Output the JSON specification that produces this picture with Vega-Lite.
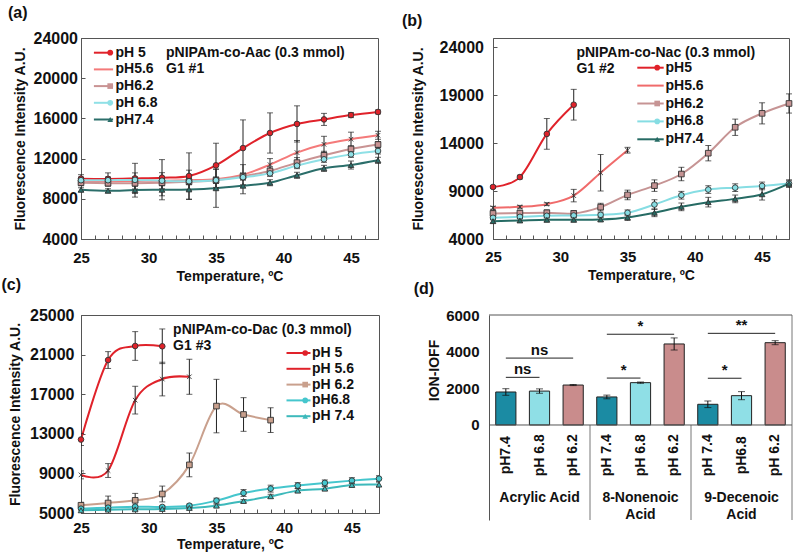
{
  "$schema": "https://vega.github.io/schema/vega-lite/v6.json",
  "background": "white",
  "padding": {"left": 1, "top": 4, "right": 2, "bottom": 2},
  "datasets": {
    "a": [
      {"ph":"pH 5","t":25,"v":10000,"e":400},{"ph":"pH 5","t":27,"v":9980,"e":600},{"ph":"pH 5","t":29,"v":10030,"e":1500},{"ph":"pH 5","t":31,"v":10100,"e":1800},{"ph":"pH 5","t":33,"v":10270,"e":2300},{"ph":"pH 5","t":35,"v":11330,"e":2200},{"ph":"pH 5","t":37,"v":13050,"e":2800},{"ph":"pH 5","t":39,"v":14550,"e":2000},{"ph":"pH 5","t":41,"v":15450,"e":1800},{"ph":"pH 5","t":43,"v":15900,"e":600},{"ph":"pH 5","t":45,"v":16330,"e":250},{"ph":"pH 5","t":47,"v":16640,"e":200},
      {"ph":"pH5.6","t":25,"v":9800,"e":300},{"ph":"pH5.6","t":27,"v":9750,"e":400},{"ph":"pH5.6","t":29,"v":9780,"e":800},{"ph":"pH5.6","t":31,"v":9800,"e":800},{"ph":"pH5.6","t":33,"v":9850,"e":1000},{"ph":"pH5.6","t":35,"v":9950,"e":1000},{"ph":"pH5.6","t":37,"v":10400,"e":1000},{"ph":"pH5.6","t":39,"v":11400,"e":600},{"ph":"pH5.6","t":41,"v":12600,"e":1200},{"ph":"pH5.6","t":43,"v":13420,"e":800},{"ph":"pH5.6","t":45,"v":13930,"e":700},{"ph":"pH5.6","t":47,"v":14320,"e":400},
      {"ph":"pH6.2","t":25,"v":9600,"e":300},{"ph":"pH6.2","t":27,"v":9550,"e":300},{"ph":"pH6.2","t":29,"v":9550,"e":300},{"ph":"pH6.2","t":31,"v":9600,"e":300},{"ph":"pH6.2","t":33,"v":9700,"e":300},{"ph":"pH6.2","t":35,"v":9850,"e":300},{"ph":"pH6.2","t":37,"v":10250,"e":300},{"ph":"pH6.2","t":39,"v":10770,"e":400},{"ph":"pH6.2","t":41,"v":11600,"e":500},{"ph":"pH6.2","t":43,"v":12330,"e":400},{"ph":"pH6.2","t":45,"v":12960,"e":300},{"ph":"pH6.2","t":47,"v":13400,"e":300},
      {"ph":"pH 6.8","t":25,"v":9850,"e":300},{"ph":"pH 6.8","t":27,"v":9850,"e":300},{"ph":"pH 6.8","t":29,"v":9880,"e":300},{"ph":"pH 6.8","t":31,"v":9800,"e":300},{"ph":"pH 6.8","t":33,"v":9750,"e":300},{"ph":"pH 6.8","t":35,"v":9850,"e":300},{"ph":"pH 6.8","t":37,"v":10150,"e":300},{"ph":"pH 6.8","t":39,"v":10530,"e":300},{"ph":"pH 6.8","t":41,"v":11300,"e":300},{"ph":"pH 6.8","t":43,"v":11930,"e":300},{"ph":"pH 6.8","t":45,"v":12420,"e":300},{"ph":"pH 6.8","t":47,"v":12760,"e":300},
      {"ph":"pH7.4","t":25,"v":8900,"e":200},{"ph":"pH7.4","t":27,"v":8800,"e":200},{"ph":"pH7.4","t":29,"v":8870,"e":700},{"ph":"pH7.4","t":31,"v":8900,"e":1000},{"ph":"pH7.4","t":33,"v":8930,"e":1000},{"ph":"pH7.4","t":35,"v":9050,"e":1900},{"ph":"pH7.4","t":37,"v":9300,"e":800},{"ph":"pH7.4","t":39,"v":9600,"e":300},{"ph":"pH7.4","t":41,"v":10340,"e":300},{"ph":"pH7.4","t":43,"v":11030,"e":300},{"ph":"pH7.4","t":45,"v":11360,"e":400},{"ph":"pH7.4","t":47,"v":11830,"e":300}
    ],
    "b": [
      {"ph":"pH5","t":25,"v":9420,"e":150},{"ph":"pH5","t":27,"v":10450,"e":200},{"ph":"pH5","t":29,"v":14950,"e":1600},{"ph":"pH5","t":31,"v":17990,"e":1600},
      {"ph":"pH5.6","t":25,"v":7250,"e":150},{"ph":"pH5.6","t":27,"v":7350,"e":150},{"ph":"pH5.6","t":29,"v":7630,"e":150},{"ph":"pH5.6","t":31,"v":8520,"e":650},{"ph":"pH5.6","t":33,"v":10900,"e":1900},{"ph":"pH5.6","t":35,"v":13250,"e":300},
      {"ph":"pH6.2","t":25,"v":6660,"e":300},{"ph":"pH6.2","t":27,"v":6700,"e":300},{"ph":"pH6.2","t":29,"v":6730,"e":300},{"ph":"pH6.2","t":31,"v":6660,"e":300},{"ph":"pH6.2","t":33,"v":7320,"e":400},{"ph":"pH6.2","t":35,"v":8590,"e":500},{"ph":"pH6.2","t":37,"v":9560,"e":600},{"ph":"pH6.2","t":39,"v":10770,"e":700},{"ph":"pH6.2","t":41,"v":12940,"e":800},{"ph":"pH6.2","t":43,"v":15640,"e":850},{"ph":"pH6.2","t":45,"v":17090,"e":1100},{"ph":"pH6.2","t":47,"v":18120,"e":1000},
      {"ph":"pH6.8","t":25,"v":6210,"e":200},{"ph":"pH6.8","t":27,"v":6310,"e":200},{"ph":"pH6.8","t":29,"v":6420,"e":200},{"ph":"pH6.8","t":31,"v":6450,"e":200},{"ph":"pH6.8","t":33,"v":6520,"e":200},{"ph":"pH6.8","t":35,"v":6730,"e":300},{"ph":"pH6.8","t":37,"v":7590,"e":500},{"ph":"pH6.8","t":39,"v":8560,"e":400},{"ph":"pH6.8","t":41,"v":9150,"e":400},{"ph":"pH6.8","t":43,"v":9350,"e":400},{"ph":"pH6.8","t":45,"v":9530,"e":400},{"ph":"pH6.8","t":47,"v":9770,"e":400},
      {"ph":"pH7.4","t":25,"v":5860,"e":200},{"ph":"pH7.4","t":27,"v":5930,"e":200},{"ph":"pH7.4","t":29,"v":6000,"e":200},{"ph":"pH7.4","t":31,"v":6000,"e":200},{"ph":"pH7.4","t":33,"v":6030,"e":200},{"ph":"pH7.4","t":35,"v":6240,"e":300},{"ph":"pH7.4","t":37,"v":6730,"e":400},{"ph":"pH7.4","t":39,"v":7350,"e":400},{"ph":"pH7.4","t":41,"v":7840,"e":500},{"ph":"pH7.4","t":43,"v":8180,"e":400},{"ph":"pH7.4","t":45,"v":8660,"e":600},{"ph":"pH7.4","t":47,"v":9770,"e":300}
    ],
    "c": [
      {"ph":"pH 5","t":25,"v":12420,"e":600},{"ph":"pH 5","t":27,"v":20450,"e":850},{"ph":"pH 5","t":29,"v":21870,"e":1450},{"ph":"pH 5","t":31,"v":21840,"e":1750},
      {"ph":"pH 5.6","t":25,"v":8850,"e":400},{"ph":"pH 5.6","t":27,"v":9290,"e":700},{"ph":"pH 5.6","t":29,"v":16400,"e":1400},{"ph":"pH 5.6","t":31,"v":18530,"e":1700},{"ph":"pH 5.6","t":33,"v":18760,"e":1770},
      {"ph":"pH 6.2","t":25,"v":5780,"e":300},{"ph":"pH 6.2","t":27,"v":6010,"e":700},{"ph":"pH 6.2","t":29,"v":6280,"e":700},{"ph":"pH 6.2","t":31,"v":6920,"e":800},{"ph":"pH 6.2","t":33,"v":9860,"e":1200},{"ph":"pH 6.2","t":35,"v":15800,"e":2700},{"ph":"pH 6.2","t":37,"v":14950,"e":1700},{"ph":"pH 6.2","t":39,"v":14380,"e":1250},
      {"ph":"pH6.8","t":25,"v":5440,"e":150},{"ph":"pH6.8","t":27,"v":5540,"e":150},{"ph":"pH6.8","t":29,"v":5640,"e":150},{"ph":"pH6.8","t":31,"v":5610,"e":150},{"ph":"pH6.8","t":33,"v":5740,"e":150},{"ph":"pH6.8","t":35,"v":6250,"e":250},{"ph":"pH6.8","t":37,"v":7020,"e":350},{"ph":"pH6.8","t":39,"v":7460,"e":350},{"ph":"pH6.8","t":41,"v":7770,"e":300},{"ph":"pH6.8","t":43,"v":8040,"e":300},{"ph":"pH6.8","t":45,"v":8270,"e":300},{"ph":"pH6.8","t":47,"v":8470,"e":300},
      {"ph":"pH 7.4","t":25,"v":5270,"e":100},{"ph":"pH 7.4","t":27,"v":5340,"e":100},{"ph":"pH 7.4","t":29,"v":5370,"e":100},{"ph":"pH 7.4","t":31,"v":5410,"e":100},{"ph":"pH 7.4","t":33,"v":5510,"e":100},{"ph":"pH 7.4","t":35,"v":5740,"e":150},{"ph":"pH 7.4","t":37,"v":6210,"e":150},{"ph":"pH 7.4","t":39,"v":6690,"e":200},{"ph":"pH 7.4","t":41,"v":7260,"e":200},{"ph":"pH 7.4","t":43,"v":7460,"e":200},{"ph":"pH 7.4","t":45,"v":7830,"e":200},{"ph":"pH 7.4","t":47,"v":7870,"e":250}
    ],
    "d": [
      {"cat":"A1","group":"Acrylic Acid","ph":"pH7.4","phc":"7.4","v":1800,"e":180},
      {"cat":"A2","group":"Acrylic Acid","ph":"pH 6.8","phc":"6.8","v":1850,"e":120},
      {"cat":"A3","group":"Acrylic Acid","ph":"pH 6.2","phc":"6.2","v":2180,"e":30},
      {"cat":"N1","group":"8-Nonenoic\nAcid","ph":"pH 7.4","phc":"7.4","v":1530,"e":100},
      {"cat":"N2","group":"8-Nonenoic\nAcid","ph":"pH 6.8","phc":"6.8","v":2310,"e":35},
      {"cat":"N3","group":"8-Nonenoic\nAcid","ph":"pH 6.2","phc":"6.2","v":4420,"e":330},
      {"cat":"D1","group":"9-Decenoic\nAcid","ph":"pH 7.4","phc":"7.4","v":1130,"e":180},
      {"cat":"D2","group":"9-Decenoic\nAcid","ph":"pH6.8","phc":"6.8","v":1600,"e":220},
      {"cat":"D3","group":"9-Decenoic\nAcid","ph":"pH 6.2","phc":"6.2","v":4490,"e":110}
    ],
    "dsig": [
      {"from":"A1","to":"A3","mid":"A2","kind":"tri","y":3650,"label":"ns"},
      {"from":"A1","to":"A2","mid":"A2","kind":"pair","y":2600,"label":"ns"},
      {"from":"N1","to":"N2","mid":"N2","kind":"pair","y":2560,"label":"*"},
      {"from":"N1","to":"N3","mid":"N2","kind":"tri","y":4950,"label":"*"},
      {"from":"D1","to":"D2","mid":"D2","kind":"pair","y":2550,"label":"*"},
      {"from":"D1","to":"D3","mid":"D2","kind":"tri","y":5000,"label":"**"}
    ]
  },
  "spacing": -8,
  "resolve": {"scale": {"stroke": "independent", "fill": "independent", "shape": "independent"}, "legend": {"stroke": "independent", "fill": "independent", "shape": "independent"}},
  "vconcat": [
    {
      "resolve": {"scale": {"stroke": "independent", "fill": "independent", "shape": "independent"}, "legend": {"stroke": "independent", "fill": "independent", "shape": "independent"}},
      "hconcat": [
        {
          "title": {"text": "(a)", "anchor": "start", "frame": "bounds", "dx": -5, "offset": 9},
          "width": 297, "height": 201,
          "data": {"name": "a"},
          "encoding": {
            "x": {"field": "t", "type": "quantitative", "scale": {"domain": [25, 47], "nice": false, "zero": false},
              "axis": {"values": [25,26,27,28,29,30,31,32,33,34,35,36,37,38,39,40,41,42,43,44,45,46,47], "labelExpr": "datum.value % 5 === 0 ? datum.label : ''", "labelOverlap": false, "tickSize": -4, "labelPadding": 15, "title": "Temperature, ºC", "titlePadding": 4}},
            "y": {"field": "v", "type": "quantitative", "scale": {"domain": [4000, 24000], "nice": false, "zero": false},
              "axis": {"values": [4000, 8000, 12000, 16000, 20000, 24000], "format": "d", "labelFontSize": 16, "tickSize": -4, "labelPadding": 7.5, "title": "Fluorescence Intensity A.U.", "titlePadding": 6}}
          },
          "layer": [
            {"mark": {"type": "line", "interpolate": "cardinal", "strokeWidth": 2},
              "encoding": {"stroke": {"field": "ph", "type": "nominal",
                "scale": {"domain": ["pH 5", "pH5.6", "pH6.2", "pH 6.8", "pH7.4"], "range": ["#e0222a", "#f47a7a", "#c99393", "#8fe0e6", "#2b6e6a"]},
                "legend": {"orient": "none", "legendX": 15.5, "legendY": 7.7, "title": null, "symbolType": "M-2.4,0H2.4", "symbolSize": 64, "symbolStrokeWidth": 2, "labelOffset": 5, "rowPadding": 2.7}}}},
            {"mark": {"type": "errorbar", "ticks": {"size": 6}, "color": "#222", "thickness": 1},
              "encoding": {"yError": {"field": "e"}}},
            {"mark": {"type": "point", "filled": true, "size": 32, "stroke": "#333", "strokeWidth": 0.9, "opacity": 1},
              "encoding": {
                "fill": {"field": "ph", "type": "nominal", "sort": null, "scale": {"range": ["#e0222a", "#f47a7a", "#c99393", "#8fe0e6", "#2b6e6a"]},
                  "legend": {"orient": "none", "legendX": 22.2, "legendY": 7.7, "title": null, "symbolSize": 32, "symbolStrokeColor": "#333", "symbolStrokeWidth": 0.9, "labelOpacity": 0, "rowPadding": 2.7}},
                "shape": {"field": "ph", "type": "nominal", "sort": null, "scale": {"range": ["circle", "M-0.8,-0.8L0.8,0.8M-0.8,0.8L0.8,-0.8", "square", "circle", "triangle-up"]},
                  "legend": {"orient": "none", "legendX": 22.2, "legendY": 7.7, "title": null, "symbolSize": 32, "symbolStrokeColor": "#333", "symbolStrokeWidth": 0.9, "labelOpacity": 0, "rowPadding": 2.7}}
              }},
            {"transform": [{"filter": "datum.ph === 'pH 5' && datum.t === 25"}],
              "mark": {"type": "text", "align": "left", "baseline": "top", "fontSize": 14, "fontWeight": "bold", "lineHeight": 16.6, "color": "#111"},
              "encoding": {"x": {"datum": 31.3}, "y": {"datum": 23233}, "text": {"value": ["pNIPAm-co-Aac  (0.3 mmol)", "G1  #1"]}}}
          ]
        },
        {
          "title": {"text": "(b)", "anchor": "start", "frame": "bounds", "dx": -9, "offset": 9},
          "width": 296, "height": 201,
          "data": {"name": "b"},
          "encoding": {
            "x": {"field": "t", "type": "quantitative", "scale": {"domain": [25, 47], "nice": false, "zero": false},
              "axis": {"values": [25,26,27,28,29,30,31,32,33,34,35,36,37,38,39,40,41,42,43,44,45,46,47], "labelExpr": "datum.value % 5 === 0 ? datum.label : ''", "labelOverlap": false, "tickSize": -4, "labelPadding": 14, "title": "Temperature, ºC", "titlePadding": 4}},
            "y": {"field": "v", "type": "quantitative", "scale": {"domain": [4000, 24940], "nice": false, "zero": false},
              "axis": {"values": [4000, 9000, 14000, 19000, 24000], "format": "d", "labelFontSize": 16, "tickSize": -4, "labelPadding": 13.5, "title": "Fluorescence Intensity A.U.", "titlePadding": 14}}
          },
          "layer": [
            {"mark": {"type": "line", "interpolate": "cardinal", "strokeWidth": 2},
              "encoding": {"stroke": {"field": "ph", "type": "nominal",
                "scale": {"domain": ["pH5", "pH5.6", "pH6.2", "pH6.8", "pH7.4"], "range": ["#e0222a", "#f06b6b", "#c69494", "#86dde3", "#266b64"]},
                "legend": {"orient": "none", "legendX": 150.5, "legendY": 22.7, "title": null, "symbolType": "M-3.3,0H3.3", "symbolSize": 64, "symbolStrokeWidth": 2, "labelOffset": 8, "rowPadding": 3.9}}}},
            {"mark": {"type": "errorbar", "ticks": {"size": 6}, "color": "#222", "thickness": 1},
              "encoding": {"yError": {"field": "e"}}},
            {"mark": {"type": "point", "filled": true, "size": 32, "stroke": "#333", "strokeWidth": 0.9, "opacity": 1},
              "encoding": {
                "fill": {"field": "ph", "type": "nominal", "sort": null, "scale": {"range": ["#e0222a", "#f06b6b", "#c69494", "#86dde3", "#266b64"]},
                  "legend": {"orient": "none", "legendX": 157.2, "legendY": 22.7, "title": null, "symbolSize": 32, "symbolStrokeColor": "#333", "symbolStrokeWidth": 0.9, "labelOpacity": 0, "rowPadding": 3.9}},
                "shape": {"field": "ph", "type": "nominal", "sort": null, "scale": {"range": ["circle", "M-0.8,-0.8L0.8,0.8M-0.8,0.8L0.8,-0.8", "square", "circle", "triangle-up"]},
                  "legend": {"orient": "none", "legendX": 157.2, "legendY": 22.7, "title": null, "symbolSize": 32, "symbolStrokeColor": "#333", "symbolStrokeWidth": 0.9, "labelOpacity": 0, "rowPadding": 3.9}}
              }},
            {"transform": [{"filter": "datum.ph === 'pH5' && datum.t === 25"}],
              "mark": {"type": "text", "align": "left", "baseline": "top", "fontSize": 14, "fontWeight": "bold", "lineHeight": 16.6, "color": "#111"},
              "encoding": {"x": {"datum": 31.2}, "y": {"datum": 24135}, "text": {"value": ["pNIPAm-co-Nac  (0.3 mmol)", "G1 #2"]}}}
          ]
        }
      ],
      "spacing": 17
    },
    {
      "resolve": {"scale": {"stroke": "independent", "fill": "independent", "shape": "independent"}, "legend": {"stroke": "independent", "fill": "independent", "shape": "independent"}},
      "hconcat": [
        {
          "title": {"text": "(c)", "anchor": "start", "frame": "bounds", "dx": -7, "offset": 14},
          "width": 298, "height": 198,
          "data": {"name": "c"},
          "encoding": {
            "x": {"field": "t", "type": "quantitative", "scale": {"domain": [25, 47], "nice": false, "zero": false},
              "axis": {"values": [25,26,27,28,29,30,31,32,33,34,35,36,37,38,39,40,41,42,43,44,45,46,47], "labelExpr": "datum.value % 5 === 0 ? datum.label : ''", "labelOverlap": false, "tickSize": -4, "labelPadding": 11, "title": "Temperature, ºC", "titlePadding": 2}},
            "y": {"field": "v", "type": "quantitative", "scale": {"domain": [5000, 25000], "nice": false, "zero": false},
              "axis": {"values": [5000, 9000, 13000, 17000, 21000, 25000], "format": "d", "labelFontSize": 16, "tickSize": -4, "labelPadding": 11, "title": "Fluorescence Intensity A.U.", "titlePadding": 7}}
          },
          "layer": [
            {"mark": {"type": "line", "interpolate": "cardinal", "strokeWidth": 2, "clip": true},
              "encoding": {"stroke": {"field": "ph", "type": "nominal",
                "scale": {"domain": ["pH 5", "pH 5.6", "pH 6.2", "pH6.8", "pH 7.4"], "range": ["#e0222a", "#e0222a", "#c9a08d", "#45c6cd", "#3db9bb"]},
                "legend": {"orient": "none", "legendX": 210.5, "legendY": 31, "title": null, "symbolType": "M-3,0H3", "symbolSize": 64, "symbolStrokeWidth": 2, "labelOffset": 6.5, "rowPadding": 1.8}}}},
            {"mark": {"type": "errorbar", "ticks": {"size": 6}, "color": "#222", "thickness": 1, "clip": true},
              "encoding": {"yError": {"field": "e"}}},
            {"mark": {"type": "point", "filled": true, "size": 32, "stroke": "#333", "strokeWidth": 0.9, "opacity": 1},
              "encoding": {
                "fill": {"field": "ph", "type": "nominal", "sort": null, "scale": {"range": ["#e0222a", "#e0222a", "#c9a08d", "#45c6cd", "#3db9bb"]},
                  "legend": {"orient": "none", "legendX": 217.2, "legendY": 31, "title": null, "symbolSize": 32, "symbolStrokeColor": "#333", "symbolStrokeWidth": 0.9, "labelOpacity": 0, "rowPadding": 1.8}},
                "shape": {"field": "ph", "type": "nominal", "sort": null, "scale": {"range": ["circle", "M-0.8,-0.8L0.8,0.8M-0.8,0.8L0.8,-0.8", "square", "circle", "triangle-up"]},
                  "legend": {"orient": "none", "legendX": 217.2, "legendY": 31, "title": null, "symbolSize": 32, "symbolStrokeColor": "#333", "symbolStrokeWidth": 0.9, "labelOpacity": 0, "rowPadding": 1.8}}
              }},
            {"transform": [{"filter": "datum.ph === 'pH 5' && datum.t === 25"}],
              "mark": {"type": "text", "align": "left", "baseline": "top", "fontSize": 14, "fontWeight": "bold", "lineHeight": 16.6, "color": "#111"},
              "encoding": {"x": {"datum": 31.8}, "y": {"datum": 24220}, "text": {"value": ["pNIPAm-co-Dac  (0.3 mmol)", "G1 #3"]}}}
          ]
        },
        {
          "title": {"text": "(d)", "anchor": "start", "frame": "bounds", "dx": -14, "offset": 11},
          "width": 303, "height": 205,
          "view": {"stroke": null},
          "layer": [
            {"data": {"name": "d"},
              "mark": {"type": "bar", "width": {"band": 0.6}, "stroke": "#222", "strokeWidth": 1},
              "encoding": {
                "x": {"field": "cat", "type": "nominal", "scale": {"domain": ["A1","A2","A3","N1","N2","N3","D1","D2","D3"], "paddingInner": 0, "paddingOuter": 0}, "axis": null},
                "y": {"field": "v", "type": "quantitative", "title": "ION-IOFF", "scale": {"domain": [-5182, 6000], "nice": false, "zero": false},
                  "axis": {"values": [0, 2000, 4000, 6000], "format": "d", "ticks": false, "labelPadding": 10, "titlePadding": 4, "titleY": 55, "domainColor": "#555"}},
                "fill": {"field": "phc", "type": "nominal", "scale": {"domain": ["7.4", "6.8", "6.2"], "range": ["#1b8ba3", "#8fdfe6", "#c98c8c"]}, "legend": null}
              }},
            {"data": {"name": "d"},
              "mark": {"type": "errorbar", "ticks": {"size": 7}, "color": "#111", "thickness": 1},
              "encoding": {
                "x": {"field": "cat", "type": "nominal"},
                "y": {"field": "v", "type": "quantitative", "title": "ION-IOFF"},
                "yError": {"field": "e"}
              }},
            {"data": {"name": "d"},
              "mark": {"type": "text", "angle": 270, "align": "center", "baseline": "middle", "fontSize": 14, "fontWeight": "bold", "color": "#111"},
              "encoding": {"x": {"field": "cat", "type": "nominal"}, "y": {"datum": -1650}, "text": {"field": "ph"}}},
            {"data": {"name": "d"},
              "transform": [{"filter": "datum.cat === 'A2' || datum.cat === 'N2' || datum.cat === 'D2'"}],
              "mark": {"type": "text", "align": "center", "baseline": "top", "fontSize": 14, "fontWeight": "bold", "lineBreak": "\n", "lineHeight": 16.7, "color": "#111"},
              "encoding": {"x": {"field": "cat", "type": "nominal"}, "y": {"datum": -3618}, "text": {"field": "group"}}},
            {"data": {"name": "d"},
              "transform": [{"filter": "datum.cat === 'N1' || datum.cat === 'D1'"}],
              "mark": {"type": "rule", "color": "#777", "strokeWidth": 1},
              "encoding": {"x": {"field": "cat", "type": "nominal", "bandPosition": 0}, "y": {"datum": 0}, "y2": {"datum": -5182}}},
            {"data": {"name": "d"},
              "transform": [{"filter": "datum.cat === 'D3'"}],
              "mark": {"type": "rule", "color": "#777", "strokeWidth": 1},
              "encoding": {"x": {"field": "cat", "type": "nominal", "bandPosition": 1}}},
            {"data": {"values": [{"level": 6000}, {"level": 0}]},
              "mark": {"type": "rule", "color": "#555", "strokeWidth": 1},
              "encoding": {"y": {"field": "level", "type": "quantitative"}}},
            {"data": {"name": "dsig"},
              "mark": {"type": "rule", "color": "#222", "strokeWidth": 1},
              "encoding": {"x": {"field": "from", "type": "nominal"}, "x2": {"field": "to"}, "y": {"field": "y", "type": "quantitative"}}},
            {"data": {"name": "dsig"},
              "transform": [{"filter": "datum.kind === 'pair'"}],
              "mark": {"type": "text", "align": "center", "baseline": "alphabetic", "dy": -3, "fontSize": 15, "fontWeight": "bold", "color": "#111"},
              "encoding": {"x": {"field": "mid", "type": "nominal", "bandPosition": 0}, "y": {"field": "y", "type": "quantitative"}, "text": {"field": "label"}}},
            {"data": {"name": "dsig"},
              "transform": [{"filter": "datum.kind === 'tri'"}],
              "mark": {"type": "text", "align": "center", "baseline": "alphabetic", "dy": -3, "fontSize": 15, "fontWeight": "bold", "color": "#111"},
              "encoding": {"x": {"field": "mid", "type": "nominal"}, "y": {"field": "y", "type": "quantitative"}, "text": {"field": "label"}}}
          ]
        }
      ],
      "spacing": 28
    }
  ],
  "config": {
    "font": "Liberation Sans",
    "view": {"stroke": "#555", "strokeWidth": 1},
    "title": {"font": "Liberation Sans", "fontSize": 16, "fontWeight": "bold", "color": "#111"},
    "axis": {"labelFont": "Liberation Sans", "titleFont": "Liberation Sans", "labelFontSize": 15, "titleFontSize": 14, "labelFontWeight": "bold", "titleFontWeight": "bold", "labelColor": "#111", "titleColor": "#111", "grid": false, "domainColor": "#555", "tickColor": "#555", "labelFlush": false},
    "legend": {"labelFont": "Liberation Sans", "labelFontSize": 14, "labelFontWeight": "bold", "labelColor": "#111"}
  }
}
